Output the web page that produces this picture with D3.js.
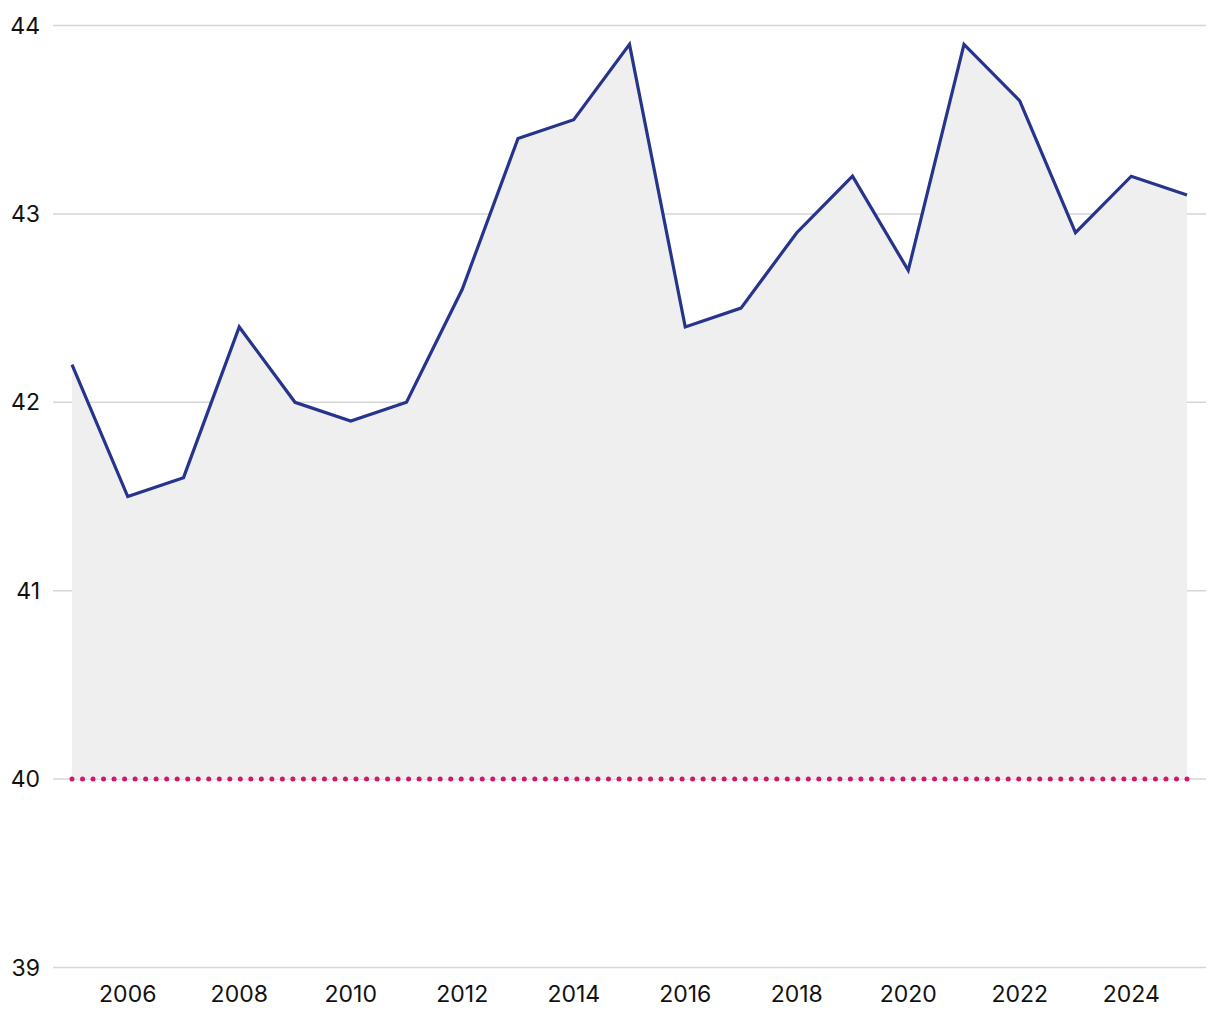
<!DOCTYPE html>
<html>
<head>
<meta charset="utf-8">
<script src="https://cdn.jsdelivr.net/npm/d3@7"></script>
<style>
body { margin: 0; background: #fff; }
text { font-family: Inter, "Noto Sans", sans-serif; }
</style>
</head>
<body>
<svg id="chart" width="1220" height="1020"></svg>
<script>
const years = [2005,2006,2007,2008,2009,2010,2011,2012,2013,2014,2015,2016,2017,2018,2019,2020,2021,2022,2023,2024,2025];
const values = [42.2,41.5,41.6,42.4,42.0,41.9,42.0,42.6,43.4,43.5,43.9,42.4,42.5,42.9,43.2,42.7,43.9,43.6,42.9,43.2,43.1];
const yTicks = [39,40,41,42,43,44];
const xTicks = [2006,2008,2010,2012,2014,2016,2018,2020,2022,2024];
const reference = 40;

const svg = d3.select("#chart");
const x = d3.scaleLinear().domain([2005, 2025]).range([72, 1187]);
const y = d3.scaleLinear().domain([39, 44]).range([967.5, 25.5]);
const gridX0 = 53, gridX1 = 1206;

// grid
svg.append("g").selectAll("line").data(yTicks).join("line")
  .attr("x1", gridX0).attr("x2", gridX1)
  .attr("y1", d => y(d)).attr("y2", d => y(d))
  .attr("stroke", "#d6d6d6").attr("stroke-width", 1.5);

// y labels
svg.append("g").selectAll("text").data(yTicks).join("text")
  .attr("x", 40).attr("y", d => y(d)).attr("dy", "0.35em")
  .attr("text-anchor", "end").attr("font-size", 23).attr("fill", "#111")
  .text(d => d);

// x labels
svg.append("g").selectAll("text").data(xTicks).join("text")
  .attr("x", d => x(d)).attr("y", 1002)
  .attr("text-anchor", "middle").attr("font-size", 23).attr("fill", "#111")
  .text(d => d);

const data = years.map((yr, i) => ({yr, v: values[i]}));

// area
svg.append("path").datum(data)
  .attr("fill", "#efefef")
  .attr("d", d3.area().x(d => x(d.yr)).y0(y(reference)).y1(d => y(d.v)));

// reference dotted line
const refLen = x(2025) - x(2005);
svg.append("line")
  .attr("x1", x(2005)).attr("x2", x(2025))
  .attr("y1", y(reference)).attr("y2", y(reference))
  .attr("stroke", "#d0186a").attr("stroke-width", 5)
  .attr("stroke-linecap", "round").attr("stroke-dasharray", `0 ${refLen / 106}`);

// line
svg.append("path").datum(data)
  .attr("fill", "none").attr("stroke", "#27348b").attr("stroke-width", 3.2)
  .attr("stroke-linejoin", "miter")
  .attr("d", d3.line().x(d => x(d.yr)).y(d => y(d.v)));
</script>
</body>
</html>
